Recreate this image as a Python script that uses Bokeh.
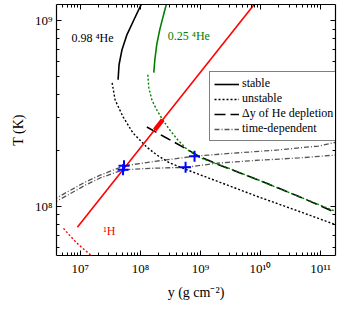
from bokeh.plotting import figure
from bokeh.models import (LogAxis, FixedTicker, CustomJSTickFormatter, Legend,
                          LegendItem, Range1d)
from bokeh.core.properties import value
from bokeh.embed import file_html
from bokeh.resources import INLINE

# ---------------- data (column depth y [g cm^-2], temperature T [K]) -------------
x_major = [1e7, 1e8, 1e9, 1e10, 1e11]
y_major = [1e8, 1e9]
x_minor = [k * 10.0 ** n for n in range(6, 12) for k in range(2, 10)]
y_minor = [k * 10.0 ** n for n in range(7, 10) for k in range(2, 10)]

# 0.98 4He stable (solid) / unstable (dotted)
y_s98 = [4.25e7, 4.41e7, 4.94e7, 5.98e7, 7.81e7, 9.82e7, 1.14e8]
T_s98 = [4.80e8, 5.78e8, 6.97e8, 8.40e8, 1.01e9, 1.18e9, 1.30e9]
y_u98 = [3.38e7, 3.79e7, 5.14e7, 7.52e7, 1.28e8, 1.87e8, 3.07e8, 7.38e8, 2.06e9, 9.45e9, 4.33e10, 1.91e11]
T_u98 = [4.62e8, 3.74e8, 3.03e8, 2.48e8, 2.08e8, 1.89e8, 1.71e8, 1.53e8, 1.35e8, 1.12e8, 9.40e7, 7.89e7]

# 0.25 4He stable (solid) / unstable (dotted)
y_s25 = [1.67e8, 1.74e8, 1.87e8, 2.10e8, 2.44e8, 2.85e8]
T_s25 = [5.24e8, 6.15e8, 7.41e8, 8.94e8, 1.08e9, 1.30e9]
y_u25 = [1.33e8, 1.38e8, 1.55e8, 1.87e8, 2.35e8, 3.07e8, 4.17e8, 6.10e8, 1.00e9, 1.70e9, 3.01e9, 9.45e9, 4.33e10, 1.91e11]
T_u25 = [5.11e8, 4.35e8, 3.74e8, 3.30e8, 2.92e8, 2.58e8, 2.28e8, 2.01e8, 1.82e8, 1.71e8, 1.60e8, 1.38e8, 1.13e8, 9.29e7]

# Delta y of He depletion (dashed)
y_dep = [1.28e8, 2.54e8, 5.44e8, 1.00e9, 2.06e9, 9.45e9, 4.33e10, 1.91e11]
T_dep = [2.67e8, 2.36e8, 2.06e8, 1.84e8, 1.67e8, 1.38e8, 1.13e8, 9.16e7]

# 1H ignition (solid red), highlighted part, unstable (dotted red)
y_H = [8.92e6, 1.5e10]
T_H = [7.70e7, 1.59e9]
y_Hbold = [1.74e8, 2.35e8]
T_Hbold = [2.58e8, 2.92e8]
y_Hu = [5.24e6, 6.84e6, 9.27e6, 1.21e7, 1.58e7]
T_Hu = [7.60e7, 6.89e7, 6.23e7, 5.78e7, 5.37e7]

# time-dependent tracks (dash-dot)
y_tdA = [3.5e6, 6.84e6, 1.21e7, 2.14e7, 5.33e7, 1.44e8, 7.96e8, 3.38e9, 2.02e10, 9.27e10, 1.91e11]
T_tdA = [1.08e8, 1.22e8, 1.35e8, 1.47e8, 1.65e8, 1.73e8, 1.86e8, 1.93e8, 2.01e8, 2.11e8, 2.22e8]
y_tdB = [3.5e6, 6.84e6, 1.21e7, 2.14e7, 5.14e7, 1.44e8, 5.65e8, 2.06e9, 9.45e9, 4.33e10, 1.91e11]
T_tdB = [1.04e8, 1.17e8, 1.30e8, 1.42e8, 1.57e8, 1.60e8, 1.62e8, 1.71e8, 1.77e8, 1.82e8, 1.89e8]

# ignition points (blue crosses)
y_ig = [5.33e7, 5.14e7, 7.96e8, 5.65e8]
T_ig = [1.65e8, 1.57e8, 1.86e8, 1.62e8]

# annotations
lbl_text = ["0.98 \u2074He", "0.25 \u2074He", "\u00b9H"]
lbl_x = [7.1e6, 2.85e8, 2.4e7]
lbl_y = [8.1e8, 8.3e8, 7.4e7]
lbl_col = ["black", "green", "red"]

# ---------------- figure ----------------
FONT = "Liberation Serif"
p = figure(width=338, height=302, x_axis_type="log", y_axis_type="log",
           x_range=Range1d(4.01e6, 1.77e11), y_range=Range1d(5.43e7, 1.22e9),
           output_backend="svg", toolbar_location=None,
           min_border_left=56, min_border_right=1, min_border_top=0, min_border_bottom=47)
p.xgrid.visible = False
p.ygrid.visible = False
p.outline_line_color = None
p.background_fill_color = "white"
p.border_fill_color = "white"

sup_code = """
const sup = {"0":"\u2070","1":"\u00b9","2":"\u00b2","3":"\u00b3","4":"\u2074",
             "5":"\u2075","6":"\u2076","7":"\u2077","8":"\u2078","9":"\u2079","-":"\u207b"};
const e = Math.round(Math.log10(tick));
return "10" + String(e).split("").map(c => sup[c]).join("");
"""
fmt = CustomJSTickFormatter(code=sup_code)
blank = CustomJSTickFormatter(code="return ' ';")
xt = FixedTicker(ticks=x_major, minor_ticks=x_minor)
yt = FixedTicker(ticks=y_major, minor_ticks=y_minor)


def style_axis(ax, labels=True):
    ax.major_tick_in = 5
    ax.major_tick_out = 0
    ax.minor_tick_in = 3
    ax.minor_tick_out = 0
    ax.axis_line_width = 1.2
    ax.major_tick_line_width = 1
    ax.axis_line_color = "black"
    ax.major_tick_line_color = "black"
    ax.minor_tick_line_color = "black"
    if labels:
        ax.formatter = fmt
        ax.major_label_text_font = FONT
        ax.major_label_text_font_size = "13px"
        ax.major_label_text_color = "black"
        ax.axis_label_text_font = FONT
        ax.axis_label_text_font_size = "14px"
        ax.axis_label_text_font_style = "normal"
        ax.axis_label_text_color = "black"
    else:
        ax.formatter = blank
        ax.major_label_text_font_size = "1px"
        ax.major_label_standoff = 0


p.xaxis.ticker = xt
p.yaxis.ticker = yt
style_axis(p.xaxis[0])
style_axis(p.yaxis[0])
p.xaxis.axis_label = "y (g cm\u207b\u00b2)"
p.yaxis.axis_label = "T (K)"
p.xaxis.major_label_standoff = 5
p.xaxis.axis_label_standoff = 6
p.yaxis.major_label_standoff = 4
p.yaxis.axis_label_standoff = 6

top_ax = LogAxis(ticker=xt)
style_axis(top_ax, labels=False)
p.add_layout(top_ax, "above")
right_ax = LogAxis(ticker=yt)
style_axis(right_ax, labels=False)
p.add_layout(right_ax, "right")

# ---------------- curves ----------------
td_col = "#555555"
DOT = "2 2"
r_tdA = p.line(y_tdA, T_tdA, color=td_col, line_width=1.3, line_dash="5 2 1 2")
p.line(y_tdB, T_tdB, color=td_col, line_width=1.3, line_dash="5 2 1 2")

r_s98 = p.line(y_s98, T_s98, color="black", line_width=1.6)
r_u98 = p.line(y_u98, T_u98, color="black", line_width=1.4, line_dash=DOT)
r_dep = p.line(y_dep, T_dep, color="black", line_width=1.6, line_dash="11 5")

p.line(y_s25, T_s25, color="green", line_width=1.6)
p.line(y_u25, T_u25, color="green", line_width=1.4, line_dash=DOT)

p.line(y_H, T_H, color="red", line_width=1.6)
p.line(y_Hbold, T_Hbold, color="red", line_width=4.5)
p.line(y_Hu, T_Hu, color="red", line_width=1.4, line_dash=DOT)

p.scatter(y_ig, T_ig, marker="cross", size=11, line_width=2, color="blue")

for t, x, y, c in zip(lbl_text, lbl_x, lbl_y, lbl_col):
    p.text(x=[x], y=[y], text=[t], text_color=c, text_font=value(FONT),
           text_font_size="12px", text_align="left", text_baseline="middle")

legend = Legend(items=[
    LegendItem(label="stable", renderers=[r_s98]),
    LegendItem(label="unstable", renderers=[r_u98]),
    LegendItem(label="\u0394y of He depletion", renderers=[r_dep]),
    LegendItem(label="time-dependent", renderers=[r_tdA]),
], location=(153, 114))
legend.label_text_font = FONT
legend.label_text_font_size = "12px"
legend.label_text_line_height = 1.0
legend.label_text_color = "black"
legend.glyph_width = 25
legend.glyph_height = 12
legend.label_height = 12
legend.label_standoff = 3
legend.spacing = 0
legend.padding = 4
legend.margin = 0
legend.border_line_color = "black"
legend.border_line_width = 1.2
legend.background_fill_alpha = 1
p.add_layout(legend)

open("out.html", "w").write(file_html(p, INLINE))
